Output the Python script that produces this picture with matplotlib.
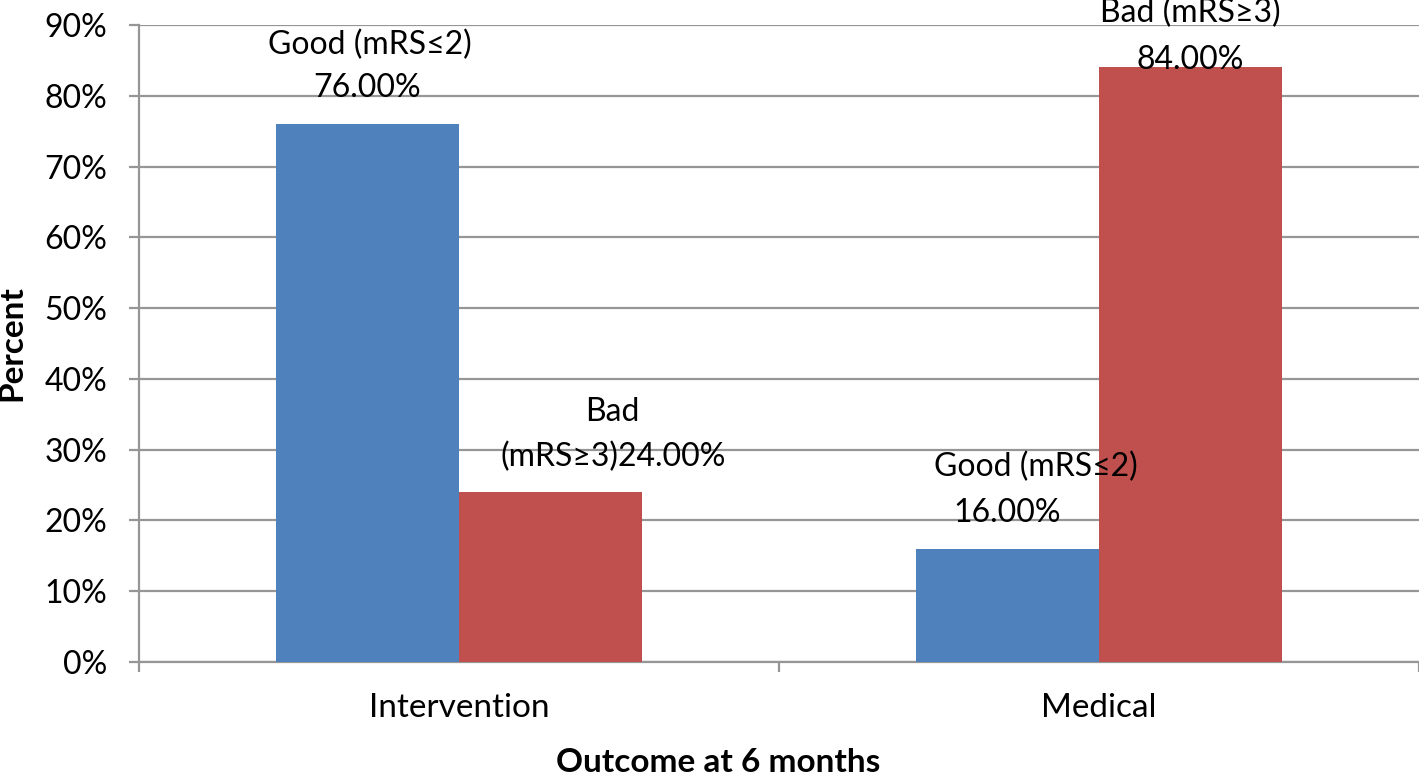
import numpy as np
import matplotlib.pyplot as plt

categories = ["Intervention", "Medical"]
good = [76.0, 16.0]
bad = [24.0, 84.0]
good_label = "Good (mRS\u22642)"
bad_label = "Bad (mRS\u22653)"

plt.rcParams['font.family'] = ['Lato', 'DejaVu Sans']

fig = plt.figure(figsize=(14.19, 7.74), dpi=100)
ax = fig.add_axes([139 / 1419, 112 / 774, 1280 / 1419, 637 / 774])

x = np.arange(len(categories))
w = 0.286
b1 = ax.bar(x - w / 2, good, w, color="#4F81BD", zorder=3)
b2 = ax.bar(x + w / 2, bad, w, color="#C0504D", zorder=3)

ax.set_xlim(-0.5, 1.5)
ax.set_ylim(0, 90)
ax.set_yticks(np.arange(0, 91, 10))
ax.set_yticklabels([f"{v}%" for v in range(0, 91, 10)])
ax.set_xticks(x)
ax.set_xticklabels(categories)
ax.set_xticks([-0.5, 0.5, 1.5], minor=True)

gcol = "#969696"
ax.grid(axis="y", color=gcol, linewidth=1.6, zorder=0)
for s in ["top", "right"]:
    ax.spines[s].set_visible(False)
for s in ["left", "bottom"]:
    ax.spines[s].set_color(gcol)
    ax.spines[s].set_linewidth(1.6)
ax.tick_params(axis="y", length=7, width=1.6, color=gcol, pad=16, labelsize=23)
ax.tick_params(axis="x", which="major", length=0, pad=22, labelsize=24)
ax.tick_params(axis="x", which="minor", length=7, width=1.6, color=gcol)


def label(bar, text, dx, dy):
    ax.annotate(text, (bar.get_x() + bar.get_width() / 2, bar.get_height()),
                xytext=(dx, dy), textcoords="offset pixels",
                ha="center", va="center", fontsize=23, zorder=5)


# Intervention
label(b1[0], good_label, 2, 79)
label(b1[0], f"{good[0]:.2f}%", 0, 36)
label(b2[0], "Bad", 62, 80)
label(b2[0], f"(mRS\u22653){bad[0]:.2f}%", 63, 35)
# Medical
label(b1[1], good_label, 28, 82)
label(b1[1], f"{good[1]:.2f}%", 0, 36)
label(b2[1], bad_label, 0, 55)
label(b2[1], f"{bad[1]:.2f}%", 0, 7)

fig.text(718 / 1419, 1 - 762 / 774, "Outcome at 6 months", ha="center", va="center",
         fontsize=24, fontweight="bold")
fig.text(12 / 1419, 1 - 343 / 774, "Percent", ha="center", va="center",
         rotation=90, fontsize=24, fontweight="bold")

fig.savefig("out.png", dpi=100)
